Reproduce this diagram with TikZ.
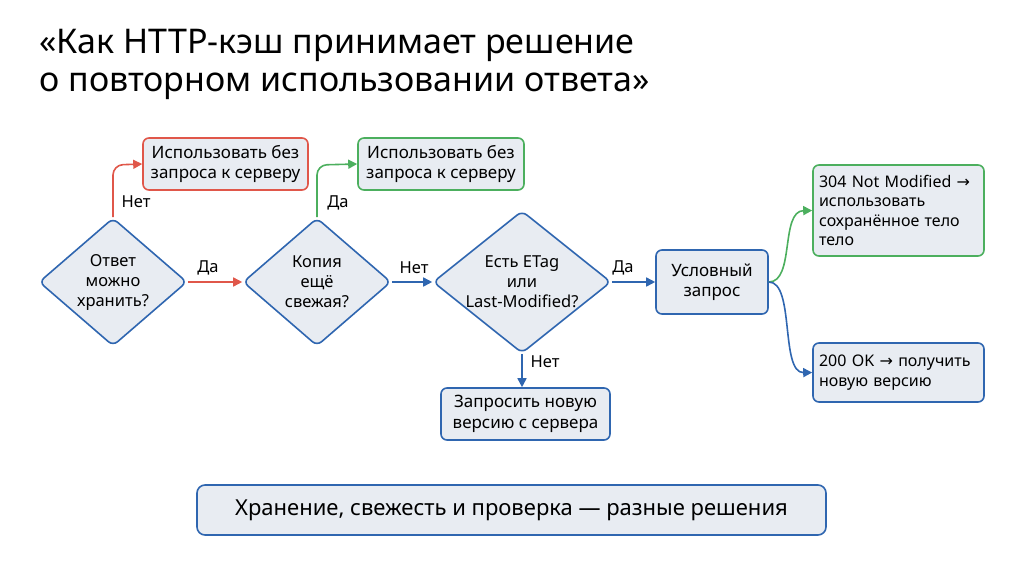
\documentclass[tikz,border=0pt]{standalone}
\usepackage{fontspec}
\setmainfont{Noto Sans}
\newfontfamily\arf{DejaVu Sans}
\usetikzlibrary{shapes.geometric,arrows.meta}
\definecolor{cb}{HTML}{2F66B0}
\definecolor{cr}{HTML}{E0574A}
\definecolor{cg}{HTML}{4CAF5E}
\definecolor{cf}{HTML}{E8ECF2}
\newcommand{\rar}{{\arf →}}
\begin{document}
\begin{tikzpicture}[x=1pt,y=-1pt,
 box/.style={draw=#1,fill=cf,line width=1.6pt,rounded corners=6pt,align=left,font=\fontsize{17}{20.5}\selectfont,inner sep=0pt},
 dia/.style={diamond,draw=cb,fill=cf,line width=1.6pt,rounded corners=6pt,inner sep=0pt,shape aspect=1.15,minimum width=148pt,minimum height=128pt,align=center,font=\fontsize{16.5}{20}\selectfont},
 ar/.style={line width=1.6pt,draw=#1,-{Triangle[length=9pt,width=9pt]},rounded corners=10pt},
 lb/.style={font=\fontsize{16.5}{18}\selectfont}]
\useasboundingbox (0,0) rectangle (1024,572);
\node[anchor=west,font=\fontsize{34}{41}\selectfont] (t1) at (36,45) {«Как HTTP-кэш принимает решение};
\node[anchor=west,font=\fontsize{34}{41}\selectfont] (t2) at (36,86) {о повторном использовании ответа»};
\node[dia] (d1) at (113,282) {Ответ\\можно\\хранить?};
\node[dia] (d2) at (317,282) {Копия\\ещё\\свежая?};
\node[dia,minimum width=160pt,minimum height=130pt,shape aspect=1.25] (d3) at (522,282) {Есть ETag\\или\\Last-Modified?};
\node[box=cr,minimum width=165pt,minimum height=52pt,align=center] (r1) at (225.5,164) {Использовать без\\запроса к серверу};
\node[box=cg,minimum width=166pt,minimum height=52pt,align=center] (g1) at (441,164) {Использовать без\\запроса к серверу};
\node[box=cb,minimum width=112pt,minimum height=64pt,align=center] (c) at (712,282) {Условный\\запрос};
\node[box=cg,minimum width=171pt,minimum height=91pt,inner xsep=6pt,text width=159pt,font=\fontsize{16}{19.5}\selectfont] (g2) at (898.5,210.5) {304 Not Modified \rar\\использовать\\сохранённое тело\\тело};
\node[box=cb,minimum width=171pt,minimum height=59pt,inner xsep=6pt,text width=159pt,font=\fontsize{16}{19.5}\selectfont] (b2) at (898.5,372.5) {200 OK \rar{} получить\\новую версию};
\node[box=cb,minimum width=169pt,minimum height=52pt,align=center] (q) at (525.5,414) {Запросить новую\\версию с сервера};
\node[box=cb,minimum width=629pt,minimum height=50pt,align=center,font=\fontsize{22}{26}\selectfont,rounded corners=8pt] (s) at (511.5,510) {Хранение, свежесть и проверка — разные решения};
\draw[ar=cr] (d1.north) -- (113,165) -- (r1.west);
\node[lb] (l1) at (136,202) {Нет};
\draw[ar=cr] (d1.east) -- (d2.west);
\node[lb] (l2) at (208,268) {Да};
\draw[ar=cg] (d2.north) -- (317,165) -- (g1.west);
\node[lb] (l3) at (338,203) {Да};
\draw[ar=cb] (d2.east) -- (d3.west);
\node[lb] (l4) at (414,268) {Нет};
\draw[ar=cb] (d3.east) -- (c.west);
\node[lb] (l5) at (623,268) {Да};
\draw[ar=cb] (d3.south) -- (d3.south |- q.north);
\node[lb] (l6) at (545,362) {Нет};
\draw[line width=1.6pt,draw=cg,-{Triangle[length=9pt,width=9pt]}] (c.east) .. controls (795,282) and (780,211) .. (g2.west);
\draw[line width=1.6pt,draw=cb,-{Triangle[length=9pt,width=9pt]}] (c.east) .. controls (795,282) and (780,373) .. (b2.west);
\end{tikzpicture}
\end{document}
